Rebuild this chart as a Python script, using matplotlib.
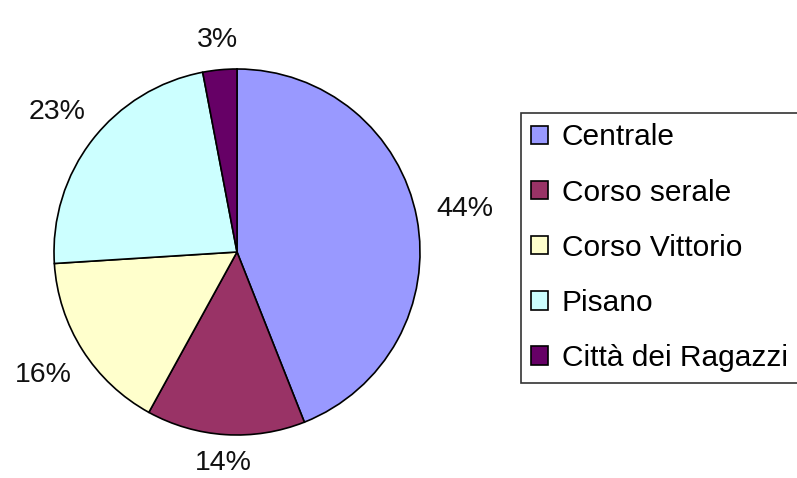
import numpy as np
import matplotlib
matplotlib.use("Agg")
import matplotlib.pyplot as plt

categories = ["Centrale", "Corso serale", "Corso Vittorio", "Pisano", "Città dei Ragazzi"]
values = [44, 14, 16, 23, 3]
colors = ["#9999FF", "#993366", "#FFFFCC", "#CCFFFF", "#660066"]

plt.rcParams['font.family'] = ['Liberation Sans', 'DejaVu Sans']

W, H = 797, 478
fig = plt.figure(figsize=(W / 100, H / 100), dpi=100)
cx, cy, R = 237, 252, 183
ax = fig.add_axes([(cx - R) / W, (H - cy - R) / H, 2 * R / W, 2 * R / H])
wedges = ax.pie(
    values, colors=colors, startangle=90, counterclock=False, radius=1,
    wedgeprops=dict(edgecolor="black", linewidth=1.2),
)[0]
ax.set_xlim(-1, 1)
ax.set_ylim(-1, 1)
ax.set_aspect("auto")
ax.axis("off")

total = sum(values)
for w, v in zip(wedges, values):
    ang = np.deg2rad((w.theta1 + w.theta2) / 2)
    d = 1.15 + 0.12 * abs(np.cos(ang))
    ax.text(d * np.cos(ang), d * np.sin(ang), f"{v / total * 100:.0f}%",
            ha="center", va="center", fontsize=20.5, color="#111111")

leg = fig.legend(wedges, categories, loc="upper left",
                 bbox_to_anchor=(521 / W, 1 - 113 / H),
                 fontsize=21.5, frameon=True, fancybox=False, edgecolor="black",
                 handlelength=0.57, handleheight=0.57, handletextpad=0.45,
                 labelspacing=0.91, borderpad=0.35, borderaxespad=0)
leg.get_frame().set_linewidth(1.2)

fig.savefig("out.png", dpi=100)
